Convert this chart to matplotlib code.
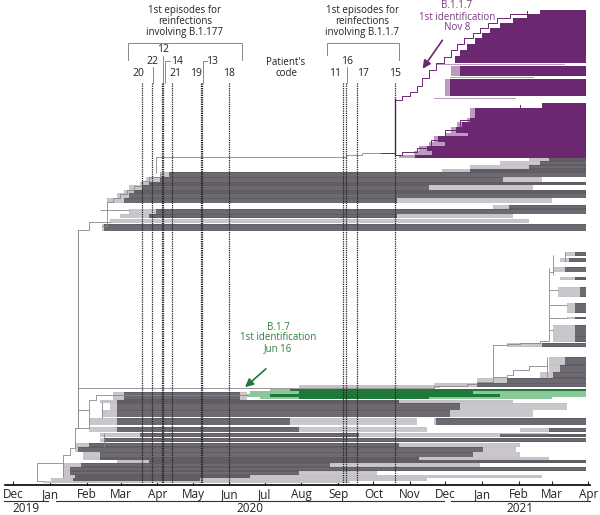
import matplotlib.pyplot as plt
import matplotlib.dates as mdates
import numpy as np

plt.rcParams['font.family'] = ['Open Sans', 'DejaVu Sans']

# ===================== data =====================
# clade rows: (row top, row bottom, first date, dark from, dark to, last date)
purple_rows = [
    (10, 14, '2021-02-19', '2021-02-19', '2021-03-30', '2021-03-30'),
    (14, 18, '2021-02-08', '2021-02-08', '2021-03-30', '2021-03-30'),
    (18, 23, '2021-01-27', '2021-01-27', '2021-03-30', '2021-03-30'),
    (23, 28, '2021-01-16', '2021-01-16', '2021-03-30', '2021-03-30'),
    (28, 33, '2021-01-08', '2021-01-08', '2021-03-30', '2021-03-30'),
    (33, 38, '2021-01-01', '2021-01-01', '2021-03-30', '2021-03-30'),
    (38, 44, '2020-12-26', '2020-12-26', '2021-03-30', '2021-03-30'),
    (44, 50, '2020-12-19', '2020-12-19', '2021-03-30', '2021-03-30'),
    (50, 56, '2020-12-13', '2020-12-13', '2021-03-30', '2021-03-30'),
    (56, 63, '2020-12-09', '2020-12-09', '2021-03-30', '2021-03-30'),
    (64, 65, '2020-11-23', '2020-11-23', '2020-11-23', '2021-03-12'),
    (66, 76, '2020-12-06', '2020-12-13', '2021-03-30', '2021-03-30'),
    (77, 78, '2020-12-05', '2020-12-05', '2020-12-05', '2021-02-14'),
    (79, 96, '2020-12-01', '2020-12-05', '2021-03-30', '2021-03-30'),
    (98, 99, '2020-11-21', '2020-11-21', '2020-11-21', '2021-01-30'),
    (103, 108, '2021-02-21', '2021-02-21', '2021-03-30', '2021-03-30'),
    (108, 118, '2020-12-22', '2020-12-26', '2021-03-30', '2021-03-30'),
    (118, 122, '2020-12-19', '2020-12-22', '2021-03-30', '2021-03-30'),
    (122, 127, '2020-12-11', '2020-12-15', '2021-03-30', '2021-03-30'),
    (127, 133, '2020-12-06', '2020-12-10', '2021-03-30', '2021-03-30'),
    (133, 136, '2020-12-01', '2020-12-20', '2021-03-30', '2021-03-30'),
    (136, 142, '2020-11-21', '2020-11-25', '2021-03-30', '2021-03-30'),
    (142, 146, '2020-11-17', '2020-12-01', '2021-03-30', '2021-03-30'),
    (146, 151, '2020-11-09', '2020-11-15', '2021-03-30', '2021-03-30'),
    (151, 155, '2020-11-04', '2020-11-20', '2021-03-30', '2021-03-30'),
    (155, 158, '2020-10-23', '2020-11-05', '2021-03-30', '2021-03-30'),
]

upper_gray_rows = [
    (158, 161, '2021-02-10', '2021-02-27', '2021-03-30', '2021-03-30'),
    (161, 165, '2021-01-16', '2021-02-19', '2021-03-30', '2021-03-30'),
    (165, 169, '2020-12-22', '2021-02-10', '2021-03-30', '2021-03-30'),
    (169, 172, '2020-11-28', '2020-12-22', '2021-03-30', '2021-03-30'),
    (172, 177, '2020-04-03', '2020-04-11', '2021-03-30', '2021-03-30'),
    (177, 182, '2020-03-22', '2020-04-03', '2021-01-19', '2021-02-21'),
    (182, 185, '2020-03-17', '2020-03-25', '2021-03-30', '2021-03-30'),
    (185, 190, '2020-03-08', '2020-03-19', '2020-11-17', '2021-02-13'),
    (190, 193, '2020-03-04', '2020-03-12', '2021-03-30', '2021-03-30'),
    (193, 198, '2020-02-27', '2020-03-08', '2021-03-30', '2021-03-30'),
    (198, 203, '2020-02-18', '2020-03-04', '2020-10-21', '2021-03-01'),
    (205, 209, '2021-01-10', '2021-01-24', '2021-03-30', '2021-03-30'),
    (209, 214, '2020-03-08', '2020-03-31', '2021-03-30', '2021-03-30'),
    (214, 218, '2020-02-29', '2020-03-25', '2020-10-21', '2021-01-27'),
    (219, 223, '2020-02-21', '2020-02-21', '2020-02-21', '2021-02-10'),
    (224, 231, '2020-02-14', '2020-02-16', '2021-03-30', '2021-03-30'),
]

right_gray_rows = [
    (252, 256, '2021-03-12', '2021-03-21', '2021-03-30', '2021-03-30'),
    (258, 262, '2021-03-08', '2021-03-16', '2021-03-30', '2021-03-30'),
    (267, 272, '2021-03-02', '2021-03-12', '2021-03-30', '2021-03-30'),
    (277, 280, '2021-03-08', '2021-03-21', '2021-03-30', '2021-03-30'),
    (287, 297, '2021-03-06', '2021-03-25', '2021-03-30', '2021-03-30'),
    (303, 313, '2021-03-14', '2021-03-21', '2021-03-30', '2021-03-30'),
    (317, 319, '2021-03-14', '2021-03-21', '2021-03-30', '2021-03-30'),
    (325, 342, '2021-03-02', '2021-03-21', '2021-03-30', '2021-03-30'),
    (343, 347, '2021-01-22', '2021-02-21', '2021-03-30', '2021-03-30'),
    (357, 365, '2021-02-27', '2021-03-12', '2021-03-30', '2021-03-30'),
    (365, 372, '2021-02-27', '2021-03-08', '2021-03-30', '2021-03-30'),
    (372, 378, '2021-02-19', '2021-03-02', '2021-03-30', '2021-03-30'),
]

green_rows = [
    (389, 391, '2020-07-05', '2020-07-22', '2021-03-30', '2021-03-30'),
    (391, 394, '2020-06-18', '2020-07-30', '2020-12-24', '2021-03-30'),
    (394, 397, '2020-06-16', '2020-07-05', '2021-01-16', '2021-03-30'),
    (397, 399, '2020-06-27', '2020-07-30', '2020-11-17', '2021-03-01'),
]

lower_gray_rows = [
    (378, 383, '2020-12-28', '2021-01-22', '2021-03-30', '2021-03-30'),
    (383, 387, '2020-11-21', '2020-12-28', '2021-03-30', '2021-03-30'),
    (385, 388, '2020-07-30', '2020-07-30', '2020-07-30', '2020-11-26'),
    (392, 400, '2020-02-23', '2020-03-04', '2020-06-10', '2020-06-16'),
    (400, 403, '2020-02-12', '2020-02-27', '2020-10-23', '2021-01-27'),
    (403, 410, '2020-02-21', '2020-02-27', '2020-12-13', '2021-03-14'),
    (410, 417, '2020-02-14', '2020-02-27', '2020-12-05', '2021-02-13'),
    (418, 425, '2020-02-03', '2020-02-27', '2020-07-22', '2020-11-07'),
    (418, 425, '2020-11-21', '2020-11-23', '2021-03-30', '2021-03-30'),
    (427, 432, '2020-02-03', '2020-02-27', '2020-07-30', '2020-11-15'),
    (428, 432, '2021-02-02', '2021-02-27', '2021-03-30', '2021-03-30'),
    (433, 437, '2020-02-12', '2020-03-17', '2020-09-19', '2021-02-27'),
    (434, 437, '2020-11-26', '2021-01-16', '2021-03-30', '2021-03-30'),
    (438, 442, '2020-02-12', '2020-02-16', '2021-03-30', '2021-03-30'),
    (443, 447, '2020-01-22', '2020-02-03', '2020-10-23', '2021-02-02'),
    (447, 452, '2020-01-22', '2020-01-25', '2021-01-02', '2021-01-30'),
    (452, 457, '2020-01-29', '2020-02-12', '2020-12-24', '2021-02-02'),
    (457, 460, '2020-01-29', '2020-02-12', '2020-11-09', '2021-02-27'),
    (460, 463, '2020-02-27', '2020-03-25', '2021-03-30', '2021-03-30'),
    (463, 467, '2020-01-12', '2020-01-27', '2020-08-25', '2020-12-30'),
    (467, 471, '2020-01-12', '2020-01-18', '2021-03-30', '2021-03-30'),
    (471, 475, '2020-01-12', '2020-01-18', '2020-07-30', '2020-10-04'),
    (475, 478, '2020-01-12', '2020-01-22', '2020-06-18', '2021-02-21'),
    (478, 481, '2020-01-02', '2020-01-20', '2020-05-07', '2020-11-15'),
    (481, 483, '2019-12-26', '2019-12-26', '2019-12-26', '2020-09-11'),
]

# tree branches drawn as staircases: (date, row) points
purple_steps = [
    [('2020-10-19', 100), ('2020-10-25', 96), ('2020-11-01', 92), ('2020-11-07', 86),
     ('2020-11-11', 78), ('2020-11-17', 70), ('2020-11-23', 63), ('2020-11-30', 57),
     ('2020-12-06', 50), ('2020-12-11', 44), ('2020-12-17', 38), ('2020-12-24', 33),
     ('2020-12-30', 28), ('2021-01-06', 23), ('2021-01-14', 18), ('2021-01-25', 14),
     ('2021-02-08', 11)],
    [('2020-10-19', 155), ('2020-10-25', 152), ('2020-11-07', 148), ('2020-11-19', 140),
     ('2020-12-01', 130), ('2020-12-13', 120), ('2021-01-08', 110), ('2021-02-02', 105)],
    [('2020-10-07', 153), ('2020-10-19', 153)],
]
gray_steps = [
    [('2020-02-14', 226), ('2020-02-18', 202), ('2020-02-23', 198), ('2020-02-29', 194),
     ('2020-03-06', 190), ('2020-03-12', 186), ('2020-03-19', 181), ('2020-03-25', 177),
     ('2020-04-03', 173)],
    [('2020-03-31', 157), ('2020-09-08', 155), ('2020-09-21', 153), ('2020-10-07', 153)],
    [('2020-10-23', 388), ('2020-11-21', 386), ('2020-12-19', 384), ('2020-12-28', 382),
     ('2021-01-10', 380)],
    [('2021-01-10', 345), ('2021-01-22', 344), ('2021-02-02', 343), ('2021-02-19', 341),
     ('2021-02-27', 340)],
    [('2021-01-10', 377), ('2021-01-22', 375), ('2021-01-27', 370), ('2021-02-10', 366),
     ('2021-02-25', 362)],
    [('2019-12-21', 481), ('2019-12-21', 463), ('2020-01-12', 463), ('2020-01-12', 455),
     ('2020-01-18', 455), ('2020-01-18', 448), ('2020-01-22', 448), ('2020-01-22', 428),
     ('2020-01-25', 428), ('2020-01-25', 230), ('2020-02-03', 230), ('2020-02-03', 222),
     ('2020-02-21', 222)],
    [('2020-01-25', 410), ('2020-02-03', 410), ('2020-02-03', 400), ('2020-02-09', 400),
     ('2020-02-09', 395), ('2020-02-23', 395)],
]
# vertical nodes: (date, row top, row bottom)
gray_nodes = [
    ('2020-03-31', 157, 173),
    ('2020-01-25', 230, 428),
    ('2020-01-12', 463, 477),
    ('2020-02-03', 410, 428),
    ('2020-02-14', 402, 418),
    ('2021-01-10', 345, 380),
    ('2021-02-27', 268, 340),
    ('2021-03-02', 255, 275),
    ('2021-03-12', 252, 262),
    ('2021-02-25', 357, 378),
    ('2020-02-16', 433, 447),
]
# thin horizontal branches: (row, from, to)
gray_stems = [
    (388, '2020-01-25', '2020-10-23'),
    (395, '2020-02-23', '2020-06-16'),
    (428, '2020-01-22', '2020-02-03'),
    (210, '2020-02-12', '2020-03-08'),
    (481, '2019-12-21', '2019-12-26'),
    (272, '2021-02-27', '2021-03-02'),
    (290, '2021-02-27', '2021-03-06'),
    (305, '2021-02-27', '2021-03-14'),
    (318, '2021-02-27', '2021-03-14'),
    (330, '2021-02-27', '2021-03-02'),
]

patient_codes = ['20', '22', '12', '14', '21', '19', '13', '18', '11', '16', '17', '15']
patient_dates = ['2020-03-19', '2020-03-27', '2020-04-05', '2020-04-06', '2020-04-13',
                 '2020-05-08', '2020-05-09', '2020-06-01', '2020-09-05', '2020-09-08',
                 '2020-09-17', '2020-10-19']

month_names = ['Dec', 'Jan', 'Feb', 'Mar', 'Apr', 'May', 'Jun', 'Jul', 'Aug', 'Sep',
               'Oct', 'Nov', 'Dec', 'Jan', 'Feb', 'Mar', 'Apr']
years = ['2019', '2020', '2021']

# ===================== colours =====================
DARK = '#625d65'
LIGHT = '#c6c3c8'
BRANCH = '#8a868c'
PURPLE = '#6c2771'
PURPLE_LIGHT = '#bb9bbe'
GREEN = '#1e7837'
GREEN_LIGHT = '#8cc79a'


def D(s):
    return mdates.date2num(np.datetime64(s))


fig = plt.figure(figsize=(6.0, 5.15), dpi=100)
ax = fig.add_axes([5 / 600, 30 / 515, 585 / 600, 485 / 515])
ax.set_xlim(D('2019-12-01') - 7.2, D('2021-04-01') + 1.5)
ax.set_ylim(485, 0)


def draw_rows(rows, light, dark, texture=True):
    for y0, y1, first, dfrom, dto, last in rows:
        ax.barh((y0 + y1) / 2, D(last) - D(first), left=D(first), height=y1 - y0,
                color=light, lw=0, zorder=2)
        if D(dto) > D(dfrom):
            ax.barh((y0 + y1) / 2, D(dto) - D(dfrom), left=D(dfrom), height=y1 - y0,
                    color=dark, lw=0, zorder=3)
        # fine strands so the clades look like stacked tips
        if texture and y1 - y0 >= 4:
            for yy in np.arange(y0 + 1.6, y1 - 0.8, 2.2):
                ax.hlines(yy, D(first), D(last), color='white', lw=0.35, alpha=0.3,
                          zorder=3.5)


draw_rows(upper_gray_rows, LIGHT, DARK)
draw_rows(right_gray_rows, LIGHT, DARK)
draw_rows(lower_gray_rows, LIGHT, DARK)
draw_rows(purple_rows, PURPLE_LIGHT, PURPLE, texture=False)
draw_rows(green_rows, GREEN_LIGHT, GREEN, texture=False)

for steps in gray_steps:
    ax.step([D(s) for s, _ in steps], [r for _, r in steps], where='post',
            color=BRANCH, lw=0.6, zorder=4)
for steps in purple_steps:
    ax.step([D(s) for s, _ in steps], [r for _, r in steps], where='post',
            color=PURPLE, lw=0.7, zorder=4)
ax.vlines(D('2020-10-19'), 98, 156, color=PURPLE, lw=0.9, zorder=4)
for s, y0, y1 in gray_nodes:
    ax.vlines(D(s), y0, y1, color=BRANCH, lw=0.6, zorder=4)
for y, s0, s1 in gray_stems:
    ax.hlines(y, D(s0), D(s1), color=BRANCH, lw=0.6, zorder=4)

# patient dotted lines
ax.vlines([D(s) for s in patient_dates], 83, 485, color='#222222', lw=0.9,
          linestyles=(0, (1, 0.8)), zorder=5)

# axis
months = np.arange(np.datetime64('2019-12'), np.datetime64('2021-05'))
ax.set_xticks([D(m) for m in months.astype('datetime64[D]')])
ax.set_xticklabels(month_names)
ax.tick_params(axis='x', direction='in', length=3, width=0.8, pad=2,
               labelsize=8.5, colors='#222222')
ax.set_yticks([])
for side in ['top', 'left', 'right']:
    ax.spines[side].set_visible(False)
ax.spines['bottom'].set_linewidth(1.2)
ax.patch.set_alpha(0)

# overlay in pixel units for the annotations
ov = fig.add_axes([0, 0, 1, 1], zorder=10)
ov.set_xlim(0, 600)
ov.set_ylim(515, 0)
ov.axis('off')
ov.patch.set_alpha(0)

# year bars
for (x0, x1, xt), yr in zip([(4, 48, 26), (56, 444, 250), (451, 590, 520)], years):
    ov.plot([x0, x1], [501, 501], color='#333333', lw=0.8)
    ov.text(xt, 509, yr, ha='center', va='center', fontsize=8.5, color='#222222')

TXT = '#222222'
ov.text(185, 21, '1st episodes for\nreinfections\ninvolving B.1.177', ha='center',
        va='center', fontsize=7, color=TXT, linespacing=1.0)
ov.text(362, 21, '1st episodes for\nreinfections\ninvolving B.1.1.7', ha='center',
        va='center', fontsize=7, color=TXT, linespacing=1.0)
ov.plot([128, 128, 242, 242], [60, 43, 43, 60], color='#888888', lw=0.7)
ov.plot([327, 327, 399, 399], [55, 43, 43, 60], color='#888888', lw=0.7)
ov.text(286, 68, "Patient's\ncode", ha='center', va='center', fontsize=7,
        color=TXT, linespacing=1.0)

label_pos = [(138, 73), (152, 62), (163, 50), (177, 62), (175, 73), (196, 73),
             (212, 62), (229, 73), (335, 73), (347, 62), (363, 73), (395, 73)]
for code, (px, py) in zip(patient_codes, label_pos):
    ov.text(px, py, code, ha='center', va='center', fontsize=7.5, color=TXT)
# leader lines
for xs, ys in [([153, 153], [67, 83]), ([162.7, 162.7], [56, 83]),
               ([170, 165, 165], [61, 61, 83]), ([207, 202.5, 202.5], [61, 61, 83]),
               ([347, 347], [67, 83])]:
    ov.plot(xs, ys, color='#777777', lw=0.6)

# B.1.1.7 annotation
ov.text(457, 17, 'B.1.1.7\n1st identification\nNov 8', ha='center', va='center',
        fontsize=7, color='#7b3a7f', linespacing=1.0)
ov.annotate('', xy=(421, 71), xytext=(444, 38),
            arrowprops=dict(arrowstyle='-|>', color=PURPLE, lw=1.2, mutation_scale=12))
# B.1.7 annotation
ov.text(278, 338, 'B.1.7\n1st identification\nJun 16', ha='center', va='center',
        fontsize=7, color='#2e7d3c', linespacing=1.0)
ov.annotate('', xy=(243, 389), xytext=(268, 367),
            arrowprops=dict(arrowstyle='-|>', color=GREEN, lw=1.2, mutation_scale=12))

fig.savefig('out.png', dpi=100)
